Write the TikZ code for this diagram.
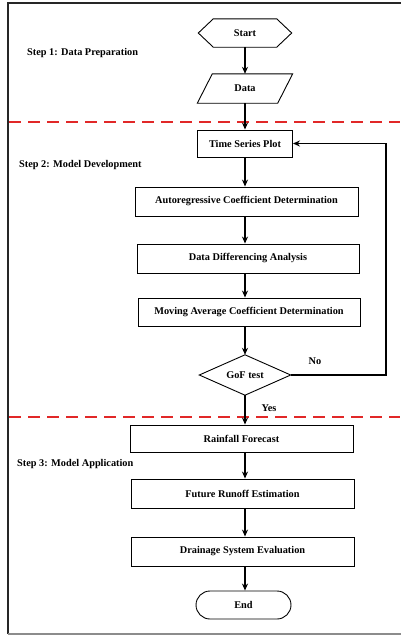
\documentclass[tikz,border=0pt]{standalone}
\usepackage{fontspec}
\setmainfont{Liberation Serif}
\usetikzlibrary{arrows.meta}
\definecolor{sepred}{RGB}{225,40,40}
\begin{document}
\begin{tikzpicture}[x=1pt,y=-1pt,
  txt/.style={font=\bfseries\fontsize{10.3}{11}\selectfont},
  boxn/.style={draw, line width=0.9pt, txt, inner sep=0pt},
  ghost/.style={txt, inner sep=0pt},
  lbl/.style={font=\bfseries\fontsize{10.3}{11}\selectfont, anchor=west, inner sep=0pt},
  arr/.style={line width=1.8pt, -{Stealth[length=7pt,width=6pt]}},
  sep/.style={draw=sepred, line width=1.8pt, dash pattern=on 12pt off 7pt}]
\useasboundingbox (0,0) rectangle (400,635);
% frame
\draw[line width=2pt, black!85] (402,3) -- (8,3) -- (8,634);
\draw[line width=1.5pt, black!45] (8,634) -- (402,634);
% separators
\draw[sep] (9,122) -- (400,122);
\draw[sep] (9,417) -- (400,417);
% nodes
\node[ghost, minimum width=93pt, minimum height=28pt] (start) at (245,33) {Start};
\draw[line width=0.9pt] (start.west) -- ([xshift=15pt]start.north west) -- ([xshift=-15pt]start.north east) -- (start.east) -- ([xshift=-15pt]start.south east) -- ([xshift=15pt]start.south west) -- cycle;
\node[ghost, minimum width=95pt, minimum height=29pt] (data) at (245,88.5) {Data};
\draw[line width=0.9pt] (data.south west) -- ([xshift=15pt]data.north west) -- (data.north east) -- ([xshift=-15pt]data.south east) -- cycle;
\node[boxn, minimum width=95pt, minimum height=27pt] (tsp) at (245,143.5) {Time Series Plot};
\node[boxn, minimum width=223pt, minimum height=29pt] (ar) at (246.5,201.5) {Autoregressive Coefficient Determination};
\node[boxn, minimum width=222pt, minimum height=29pt] (dd) at (248,258.5) {Data Differencing Analysis};
\node[boxn, minimum width=222pt, minimum height=28pt] (ma) at (249,312) {Moving Average Coefficient Determination};
\node[ghost, minimum width=91pt, minimum height=40pt] (gof) at (245,375) {GoF test};
\draw[line width=0.9pt] (gof.west) -- (gof.north) -- (gof.east) -- (gof.south) -- cycle;
\node[boxn, minimum width=223pt, minimum height=27pt] (rf) at (241.5,438.5) {Rainfall Forecast};
\node[boxn, minimum width=223pt, minimum height=29pt] (fr) at (242.5,493.5) {Future Runoff Estimation};
\node[boxn, minimum width=223pt, minimum height=29pt] (dse) at (242.5,551.5) {Drainage System Evaluation};
\node[boxn, minimum width=95pt, minimum height=28pt, rounded corners=14pt] (end) at (243.5,605) {End};
% labels
\node[lbl] (s1) at (27,53) {Step 1: Data Preparation};
\node[lbl] (s2) at (19,165) {Step 2: Model Development};
\node[lbl] (s3) at (17,464) {Step 3: Model Application};
\node[txt, inner sep=0pt] (no) at (315,361) {No};
\node[txt, inner sep=0pt] (yes) at (269,408) {Yes};
% arrows
\draw[arr] (start.south) -- (data.north);
\draw[arr] (data.south) -- (tsp.north);
\draw[arr] (tsp.south) -- (tsp.south |- ar.north);
\draw[arr] (tsp.south |- ar.south) -- (tsp.south |- dd.north);
\draw[arr] (tsp.south |- dd.south) -- (tsp.south |- ma.north);
\draw[arr] (tsp.south |- ma.south) -- (gof.north);
\draw[arr] (gof.south) -- (gof.south |- rf.north);
\draw[arr] (gof.south |- rf.south) -- (gof.south |- fr.north);
\draw[arr] (gof.south |- fr.south) -- (gof.south |- dse.north);
\draw[arr] (gof.south |- dse.south) -- (gof.south |- end.north);
\coordinate (c1) at (386,375);
\coordinate (c2) at (386,143.5);
\draw[arr] (gof.east) -- (c1) -- (c2) -- (tsp.east);
\end{tikzpicture}
\end{document}
